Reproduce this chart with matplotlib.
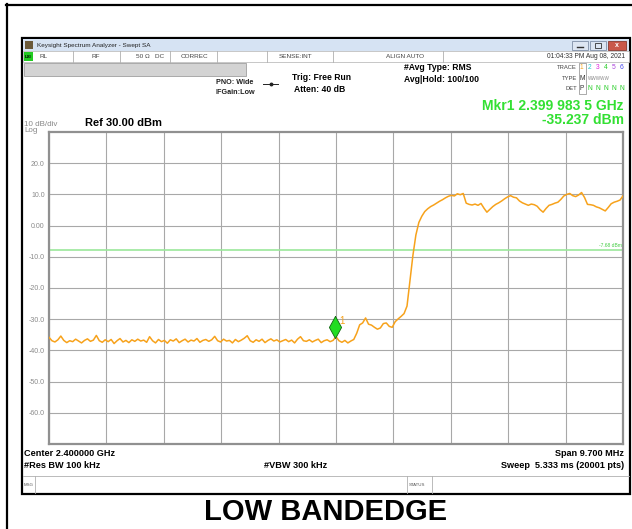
import numpy as np
import matplotlib
matplotlib.use("Agg")
import matplotlib.pyplot as plt
from matplotlib.patches import Rectangle

plt.rcParams['font.family'] = ['Liberation Sans', 'DejaVu Sans']

# --- data ---
center_ghz = 2.4
span_mhz = 9.7
ref_dbm = 30.0
db_per_div = 10.0
limit_dbm = -7.68
marker_freq_ghz = 2.3999835
marker_level = -35.237

# trace levels (dBm), evenly spaced sweep points across the span
low_noise = [
    -35.8, -36.9, -37.3, -36.6, -35.4, -36.8, -37.5, -36.9, -37.2, -36.4,
    -37.0, -37.6, -36.8, -36.3, -37.1, -36.7, -35.2, -36.9, -37.4, -36.6,
    -37.2, -36.5, -37.8, -36.9, -36.2, -37.3, -36.8, -37.5, -36.6, -37.1,
    -36.4, -37.0, -36.7, -37.4, -35.6, -36.9, -37.6, -36.5, -37.2, -36.8,
    -37.7, -36.6, -37.0, -36.3, -37.5, -36.9, -36.4, -37.3, -36.7, -37.0,
    -36.2, -37.4, -36.8, -36.5, -37.1, -36.6, -35.5, -36.9, -37.3, -36.4,
    -37.0, -36.8, -37.6, -36.5, -37.2, -36.7, -36.1, -35.3, -36.9, -37.4,
    -36.6, -37.1, -36.4, -37.5, -36.8, -36.3, -37.0, -36.6, -37.3, -36.9,
    -36.5, -37.2, -36.7, -37.6, -36.4, -35.6, -36.9, -37.1, -36.6, -37.3,
    -36.8, -36.4, -37.5, -36.9, -36.6, -37.2, -36.8,
]
edge = [
    -35.6,
    -36.9, -37.4, -36.8, -37.6, -37.0, -36.5,
    -34.5, -31.8, -31.2, -29.6, -31.6, -31.9, -32.6, -33.2, -32.8, -31.4,
    -31.2, -32.3, -32.6, -30.8, -29.9, -29.1, -28.2, -25.8, -17.5, -9.5,
    -3.0, 1.0, 3.0, 4.5, 5.4, 6.1, 6.6, 7.2, 7.8, 8.3,
    8.9, 9.4, 9.7, 9.5, 10.2, 9.9, 10.3, 7.2, 6.8, 6.6,
    6.9, 6.5, 7.1, 5.6, 4.3, 5.2, 6.1, 6.8, 7.3, 7.9,
    8.6, 9.2, 9.6, 9.1, 8.9, 7.9, 7.3, 6.9, 6.5, 6.9,
    6.7, 6.2, 5.1, 4.3, 5.5, 6.5, 6.8, 7.2, 7.5, 8.4,
    9.5, 10.0, 10.3, 9.6, 9.3, 9.8, 10.6, 9.0, 6.8, 6.7,
    6.5, 6.0, 5.7, 5.2, 4.7, 5.8, 7.0, 7.5, 7.8, 8.2, 9.5,
]
levels = low_noise + edge
ytick_vals = [20, 10, 0, -10, -20, -30, -40, -50, -60]
ytick_text = ['20.0', '10.0', '0.00', '-10.0', '-20.0', '-30.0', '-40.0', '-50.0', '-60.0']

start = center_ghz - span_mhz / 2000
stop = center_ghz + span_mhz / 2000
freqs = np.linspace(start, stop, len(levels))

W, H = 632, 529
fig = plt.figure(figsize=(W / 100, H / 100), dpi=100)
fig.patch.set_facecolor('white')

# background axes in pixel coordinates for the instrument window chrome
bg = fig.add_axes([0, 0, 1, 1])
bg.set_xlim(0, W)
bg.set_ylim(H, 0)
bg.axis('off')

def box(x0, y0, x1, y1, fc='none', ec='none', lw=1.0, z=1):
    bg.add_patch(Rectangle((x0, y0), x1 - x0, y1 - y0, facecolor=fc,
                           edgecolor=ec, linewidth=lw, zorder=z))

def txt(x, y, s, size=6, color='black', weight='normal', ha='left', **kw):
    bg.text(x, y, s, fontsize=size, color=color, fontweight=weight,
            ha=ha, va='center', **kw)

# outer page frame (top + left)
bg.plot([6, W], [4.5, 4.5], color='black', lw=1.6)
bg.plot([6.5, 6.5], [4, H], color='black', lw=1.6)

# analyzer window
box(22, 38, 630, 494, fc='white', ec='black', lw=1.6)
# title bar
box(23, 39, 629, 51, fc='#d6e3f3')
box(25, 41, 33, 49, fc='#6b5a3a')
txt(37, 45.5, 'Keysight Spectrum Analyzer - Swept SA', size=4.6, color='#222222')
box(572, 40.5, 588, 50, fc='#dde6f2', ec='#7f8fa6', lw=0.6)
box(590, 40.5, 606, 50, fc='#dde6f2', ec='#7f8fa6', lw=0.6)
box(608, 40.5, 626, 50, fc='#c9584a', ec='#8a3a30', lw=0.6)
bg.plot([577, 583], [47, 47], color='#333333', lw=1.0)
box(595, 43, 601, 48, ec='#333333', lw=0.6)
bg.text(617, 45.5, 'x', fontsize=5, color='white', ha='center', va='center', fontweight='bold')

# status row
box(23, 51, 629, 62, fc='white', ec='#b0b0b0', lw=0.5)
box(24, 52, 33, 61, fc='#22cc22')
txt(25, 56.5, 'LXI', size=3.2, color='black', weight='bold')
for xd in [73, 120, 170, 217, 267, 333, 443]:
    bg.plot([xd, xd], [51, 62], color='#b0b0b0', lw=0.6)
txt(40, 56.5, 'RL', size=4.6, color='#444444')
txt(96, 56.5, 'RF', size=4.6, color='#444444', ha='center')
txt(136, 56.5, '50 \u03a9   DC', size=4.6, color='#444444')
txt(194, 56.5, 'CORREC', size=4.6, color='#444444', ha='center')
txt(296, 56.5, 'SENSE:INT', size=4.6, color='#444444', ha='center')
txt(405, 56.5, 'ALIGN AUTO', size=4.6, color='#444444', ha='center')
txt(625, 56.5, '01:04:33 PM Aug 08, 2021', size=4.8, color='#333333', ha='right')

# gray message bar
box(24, 63, 246, 76, fc='#d3d3d3', ec='#a0a0a0', lw=0.6)

# header settings
txt(216, 82, 'PNO: Wide', size=5.2, color='#222222', weight='bold')
txt(216, 92, 'IFGain:Low', size=5.2, color='#222222', weight='bold')
bg.plot([263, 278], [84, 84], color='#222222', lw=0.7)
bg.plot([270.5], [84], marker='o', ms=1.8, color='#222222')
txt(292, 78, 'Trig: Free Run', size=6.2, weight='bold')
txt(294, 89, 'Atten: 40 dB', size=6.2, weight='bold')
txt(404, 68, '#Avg Type: RMS', size=6.2, weight='bold')
txt(404, 79, 'Avg|Hold: 100/100', size=6.2, weight='bold')

# trace table
txt(577, 67.5, 'TRACE', size=4.2, color='#444444', ha='right')
txt(577, 78.5, 'TYPE', size=4.2, color='#444444', ha='right')
txt(577, 88.5, 'DET', size=4.2, color='#444444', ha='right')
box(579, 63, 586, 94, ec='#888888', lw=0.5)
digit_colors = ['#f5a623', '#22cccc', '#dd22dd', '#22cc22', '#aa44dd', '#4444ee']
for k, c in enumerate(digit_colors):
    txt(580 + k * 8, 67.5, str(k + 1), size=4.8, color=c)
txt(580, 78.5, 'M', size=4.8, color='#333333')
txt(588, 78.5, 'WWWWW', size=3.3, color='#888888')
txt(580, 88.5, 'P', size=4.8, color='#333333')
for k in range(5):
    txt(588 + k * 8, 88.5, 'N', size=4.8, color='#22cc22')

# marker readout
mk_green = '#33e033'
txt(624, 106, 'Mkr1 2.399 983 5 GHz', size=10, color=mk_green, weight='bold', ha='right')
txt(624, 120, '%.3f dBm' % marker_level, size=10, color=mk_green, weight='bold', ha='right')

txt(24, 124.5, '10 dB/div', size=5.8, color='#888888')
txt(24, 131.0, 'Log', size=5.8, color='#888888')
txt(85, 123.5, 'Ref %.2f dBm' % ref_dbm, size=8, weight='bold')

# bottom readouts
txt(24, 453, 'Center %.6f GHz' % center_ghz, size=6.6, weight='bold')
txt(24, 466, '#Res BW 100 kHz', size=6.6, weight='bold')
txt(296, 466, '#VBW 300 kHz', size=6.6, weight='bold', ha='center')
txt(624, 453, 'Span %.3f MHz' % span_mhz, size=6.6, weight='bold', ha='right')
txt(624, 466, 'Sweep  5.333 ms (20001 pts)', size=6.6, weight='bold', ha='right')

# MSG / STATUS row
bg.plot([23, 629], [476, 476], color='#b0b0b0', lw=0.6)
for xd in [35, 407, 432]:
    bg.plot([xd, xd], [476, 493], color='#b0b0b0', lw=0.6)
txt(24, 484.5, 'MSG', size=3.2, color='#555555')
txt(409, 484.5, 'STATUS', size=3.2, color='#555555')

# caption
fig.text(326 / W, 1 - 512 / H, 'LOW BANDEDGE', fontsize=21, fontweight='bold',
         ha='center', va='center')

# --- spectrum graticule ---
x0, x1, y0, y1 = 49, 623, 132, 444
ax = fig.add_axes([x0 / W, 1 - y1 / H, (x1 - x0) / W, (y1 - y0) / H])
ax.set_facecolor('white')
ax.set_xlim(start, stop)
ax.set_ylim(ref_dbm - 10 * db_per_div, ref_dbm)
ax.set_xticks(np.linspace(start, stop, 11))
ax.set_xticklabels([])
ax.set_yticks(ytick_vals)
ax.set_yticklabels(ytick_text, fontsize=5, color='#8a8a8a')
ax.tick_params(length=0, pad=3)
ax.grid(True, color='#a8a8a8', lw=0.8)
for s in ax.spines.values():
    s.set_color('#909090')
    s.set_linewidth(1.6)

ax.axhline(limit_dbm, color='#9be89b', lw=1.2, zorder=2)
ax.text(stop - span_mhz / 2000 * 0.005, limit_dbm + 1.2, '%.2f dBm' % limit_dbm,
        fontsize=3.6, color='#44cc44', ha='right', va='center')
ax.plot(freqs, levels, color='#f7a21b', lw=1.1, zorder=3)

# tall marker diamond whose bottom tip sits on the trace point
diamond = [(0, 1), (0.55, 0), (0, -1), (-0.55, 0), (0, 1)]
ax.plot([marker_freq_ghz], [marker_level + 2.6], marker=diamond, ms=16,
        mfc='#22dd22', mec='#116611', mew=0.6, zorder=4)
ax.text(marker_freq_ghz + 0.00012, marker_level + 4.8, '1', fontsize=7,
        color='#f7a21b', ha='center', va='center', zorder=4)

fig.savefig('out.png', dpi=100, facecolor='white')
